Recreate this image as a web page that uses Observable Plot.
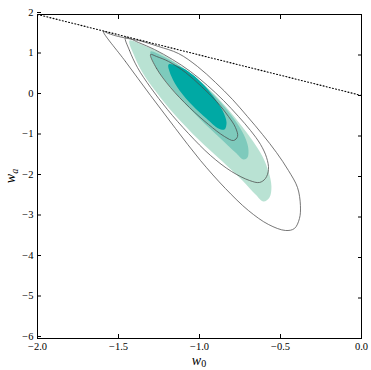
<!DOCTYPE html>
<html><head><meta charset="utf-8">
<script src="https://cdn.jsdelivr.net/npm/d3@7"></script>
<script src="https://cdn.jsdelivr.net/npm/@observablehq/plot@0.6"></script>
<style>body{margin:0;background:#fff} #chart{width:371px;height:370px}</style>
</head><body><div id="chart"></div>
<script>
const xTicks = [-2.0, -1.5, -1.0, -0.5, 0.0];
const yTicks = [-6, -5, -4, -3, -2, -1, 0, 1, 2];

// prior boundary w0 + wa = 0 (dotted)
const boundW0 = [-2, 0];
const boundWa = [2, 0];

// filled contours
const fill68W0 = [-1.191,-1.173,-1.123,-1.043,-0.957,-0.883,-0.846,-0.833,-0.858,-0.914,-0.988,-1.068,-1.142];
const fill68Wa = [0.765,0.469,0.123,-0.247,-0.568,-0.815,-0.840,-0.667,-0.370,-0.025,0.321,0.593,0.741];
const fill95W0 = [-1.302,-1.278,-1.216,-1.117,-0.994,-0.870,-0.778,-0.728,-0.704,-0.698,-0.716,-0.759,-0.827,-0.914,-1.012,-1.117,-1.222];
const fill95Wa = [1.086,0.765,0.395,-0.074,-0.593,-1.062,-1.407,-1.580,-1.531,-1.333,-1.062,-0.741,-0.370,0.025,0.395,0.716,0.963];
const fill99W0 = [-1.432,-1.401,-1.352,-1.265,-1.154,-1.006,-0.858,-0.735,-0.654,-0.605,-0.568,-0.556,-0.574,-0.611,-0.673,-0.747,-0.833,-0.932,-1.037,-1.148,-1.259,-1.358];
const fill99Wa = [1.358,0.963,0.568,0.074,-0.469,-1.086,-1.630,-2.099,-2.444,-2.617,-2.519,-2.247,-1.877,-1.506,-1.111,-0.716,-0.296,0.123,0.494,0.815,1.086,1.259];

// line contours
const line68W0 = [-1.302,-1.265,-1.179,-1.062,-0.944,-0.846,-0.790,-0.765,-0.778,-0.821,-0.895,-0.988,-1.086,-1.191,-1.265];
const line68Wa = [1.012,0.667,0.198,-0.296,-0.716,-1.012,-1.111,-1.012,-0.790,-0.519,-0.148,0.222,0.568,0.840,0.963];
const line95W0 = [-1.457,-1.432,-1.383,-1.302,-1.198,-1.068,-0.932,-0.802,-0.691,-0.630,-0.593,-0.574,-0.586,-0.623,-0.685,-0.759,-0.852,-0.951,-1.056,-1.167,-1.278,-1.377];
const line95Wa = [1.432,1.111,0.691,0.198,-0.346,-0.938,-1.481,-1.877,-2.099,-2.148,-2.049,-1.827,-1.531,-1.210,-0.864,-0.519,-0.123,0.247,0.593,0.889,1.136,1.309];
const line99W0 = [-1.593,-1.457,-1.302,-1.148,-0.994,-0.840,-0.698,-0.574,-0.469,-0.414,-0.383,-0.377,-0.395,-0.451,-0.525,-0.611,-0.704,-0.796,-0.901,-1.012,-1.130,-1.253,-1.364,-1.426,-1.500,-1.562];
const line99Wa = [1.580,0.840,0.0,-0.815,-1.605,-2.296,-2.840,-3.185,-3.333,-3.284,-3.037,-2.716,-2.272,-1.852,-1.407,-0.963,-0.519,-0.099,0.321,0.716,1.037,1.210,1.346,1.395,1.457,1.531];

const fillColors = ["#b9e2d3", "#7ecabc", "#00a9a4"];
const lineColor = "#4a4a4a";

const pts = (a, b) => a.map((v, i) => ({w0: v, wa: b[i]}));

const serif = "'Liberation Serif', 'DejaVu Serif', serif";

const chart = Plot.plot({
  width: 371,
  height: 370,
  marginLeft: 37,
  marginRight: 10,
  marginTop: 14,
  marginBottom: 32,
  style: {fontFamily: serif, fontSize: "10.5px", background: "#fff", color: "#000"},
  x: {domain: [-2, 0]},
  y: {domain: [-6, 2]},
  marks: [
    Plot.line(pts(fill99W0, fill99Wa), {x: "w0", y: "wa", curve: "catmull-rom-closed", fill: fillColors[0], stroke: "none"}),
    Plot.line(pts(fill95W0, fill95Wa), {x: "w0", y: "wa", curve: "catmull-rom-closed", fill: fillColors[1], stroke: "none"}),
    Plot.line(pts(fill68W0, fill68Wa), {x: "w0", y: "wa", curve: "catmull-rom-closed", fill: fillColors[2], stroke: "none"}),
    Plot.line(pts(line99W0, line99Wa), {x: "w0", y: "wa", curve: "catmull-rom-closed", stroke: lineColor, strokeWidth: 0.75}),
    Plot.line(pts(line95W0, line95Wa), {x: "w0", y: "wa", curve: "catmull-rom-closed", stroke: lineColor, strokeWidth: 0.75}),
    Plot.line(pts(line68W0, line68Wa), {x: "w0", y: "wa", curve: "catmull-rom-closed", stroke: lineColor, strokeWidth: 0.75}),
    Plot.line(pts(boundW0, boundWa), {x: "w0", y: "wa", stroke: "#000", strokeWidth: 1.1, strokeDasharray: "1,2.2"}),
    Plot.axisX(xTicks, {anchor: "bottom", tickSize: -4, tickPadding: 8, tickFormat: d3.format(".1f"), label: null}),
    Plot.axisX(xTicks, {anchor: "top", tickSize: -4, tickFormat: () => "", label: null}),
    Plot.axisY(yTicks, {anchor: "left", tickSize: -4, tickPadding: 8, dy: -2, tickFormat: d3.format("d"), label: null}),
    Plot.axisY(yTicks, {anchor: "right", tickSize: -4, tickFormat: () => "", label: null}),
    Plot.frame({stroke: "#000", strokeWidth: 1})
  ]
});

document.getElementById("chart").appendChild(chart);

const svg = d3.select(chart);
const xl = svg.append("text").attr("x", 199).attr("y", 365).attr("text-anchor", "middle")
  .attr("font-family", serif).attr("font-size", 14).attr("fill", "#000");
xl.append("tspan").attr("font-style", "italic").text("w");
xl.append("tspan").attr("font-size", 10).attr("dy", 2).text("0");

const yl = svg.append("text").attr("transform", "translate(15,176) rotate(-90)").attr("text-anchor", "middle")
  .attr("font-family", serif).attr("font-size", 14).attr("fill", "#000");
yl.append("tspan").attr("font-style", "italic").text("w");
yl.append("tspan").attr("font-style", "italic").attr("font-size", 10).attr("dy", 3).text("a");
</script>
</body></html>
